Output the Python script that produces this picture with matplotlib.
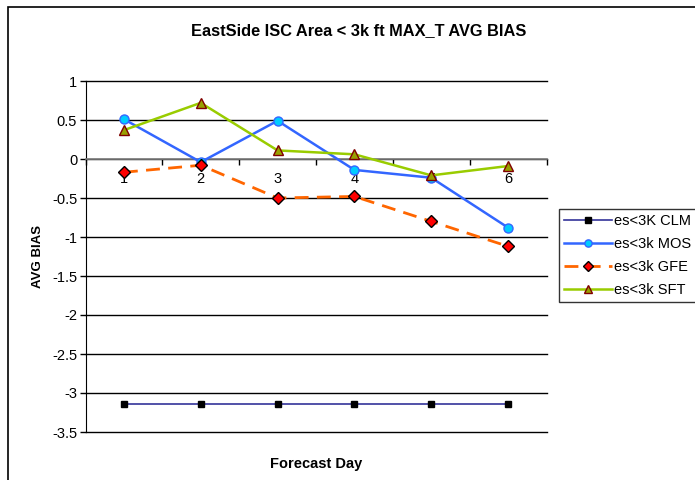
import matplotlib
matplotlib.use("Agg")
import matplotlib.pyplot as plt
from matplotlib.patches import Rectangle

plt.rcParams['font.family'] = ['Liberation Sans', 'DejaVu Sans']
plt.rcParams['axes.unicode_minus'] = False

days = [1, 2, 3, 4, 5, 6]
day_labels = ["1", "2", "3", "4", "5", "6"]
clm = [-3.14, -3.14, -3.14, -3.14, -3.14, -3.14]
mos = [0.51, -0.04, 0.49, -0.14, -0.24, -0.88]
gfe = [-0.17, -0.08, -0.50, -0.48, -0.80, -1.12]
sft = [0.37, 0.72, 0.11, 0.06, -0.21, -0.09]
yticks = [1, 0.5, 0, -0.5, -1, -1.5, -2, -2.5, -3, -3.5]
ytick_labels = ["1", "0.5", "0", "-0.5", "-1", "-1.5", "-2", "-2.5", "-3", "-3.5"]

fig = plt.figure(figsize=(6.95, 4.8), dpi=100)
fig.patches.append(Rectangle((8/695, -0.1), 1.2, 1 - 7/480 + 0.1, transform=fig.transFigure,
                             fill=False, edgecolor='black', linewidth=1.2))
ax = fig.add_axes([85.5/695, 1 - 432/480, 461/695, 351/480])

for y in yticks:
    ax.axhline(y, color='black', linewidth=1.0, zorder=1, clip_on=False)

ax.plot(days, clm, color='#333399', linewidth=1.2, marker='s', markersize=5,
        markerfacecolor='black', markeredgecolor='black', label='es<3K CLM', zorder=3)
ax.plot(days, mos, color='#3366ff', linewidth=1.8, marker='o', markersize=6.5,
        markerfacecolor='#00ccff', markeredgecolor='#3366ff', label='es<3k MOS', zorder=3)
ax.plot(days, gfe, color='#ff6600', linewidth=2.0, linestyle=(0, (5, 3)), marker='D', markersize=6.5,
        markerfacecolor='#ff0000', markeredgecolor='black', label='es<3k GFE', zorder=3)
ax.plot(days, sft, color='#99cc00', linewidth=1.8, marker='^', markersize=7.5,
        markerfacecolor='#99a000', markeredgecolor='#800000', label='es<3k SFT', zorder=3)

ax.set_xlim(0.5, 6.5)
ax.set_ylim(-3.5, 1)
ax.set_yticks(yticks)
ax.set_yticklabels(ytick_labels, fontsize=10.5)
ax.spines['top'].set_visible(False)
ax.spines['right'].set_visible(False)
ax.spines['left'].set_color('black')
ax.spines['bottom'].set_position(('data', 0))
ax.spines['bottom'].set_color('#808080')
ax.spines['bottom'].set_linewidth(1.2)
ax.tick_params(axis='y', length=4, width=1, direction='out', pad=2)

ax.set_xticks(days)
ax.set_xticklabels(day_labels, fontsize=10.5)
ax.tick_params(axis='x', which='major', length=0, pad=9)
ax.set_xticks([0.5, 1.5, 2.5, 3.5, 4.5, 5.5, 6.5], minor=True)
ax.tick_params(axis='x', which='minor', length=4, width=1, direction='out', color='black')

ax.set_ylabel('AVG BIAS', fontsize=9.5, fontweight='bold', labelpad=6)
ax.set_xlabel('Forecast Day', fontsize=10.5, fontweight='bold')
ax.xaxis.set_label_coords(0.5, (432 - 457) / 351, transform=ax.transAxes)

fig.text(359/695, 1 - 31/480, 'EastSide ISC Area < 3k ft MAX_T AVG BIAS', ha='center', va='center',
         fontsize=11.8, fontweight='bold')

leg = ax.legend(loc='upper left', bbox_to_anchor=(559/695, 1 - 209/480), bbox_transform=fig.transFigure,
                fontsize=10.5, frameon=True, fancybox=False, edgecolor='black', handlelength=3.3,
                borderpad=0.35, borderaxespad=0, labelspacing=0.62, handletextpad=0.15, markerscale=0.8)
leg.get_frame().set_linewidth(1.0)

fig.savefig('out.png', dpi=100)
